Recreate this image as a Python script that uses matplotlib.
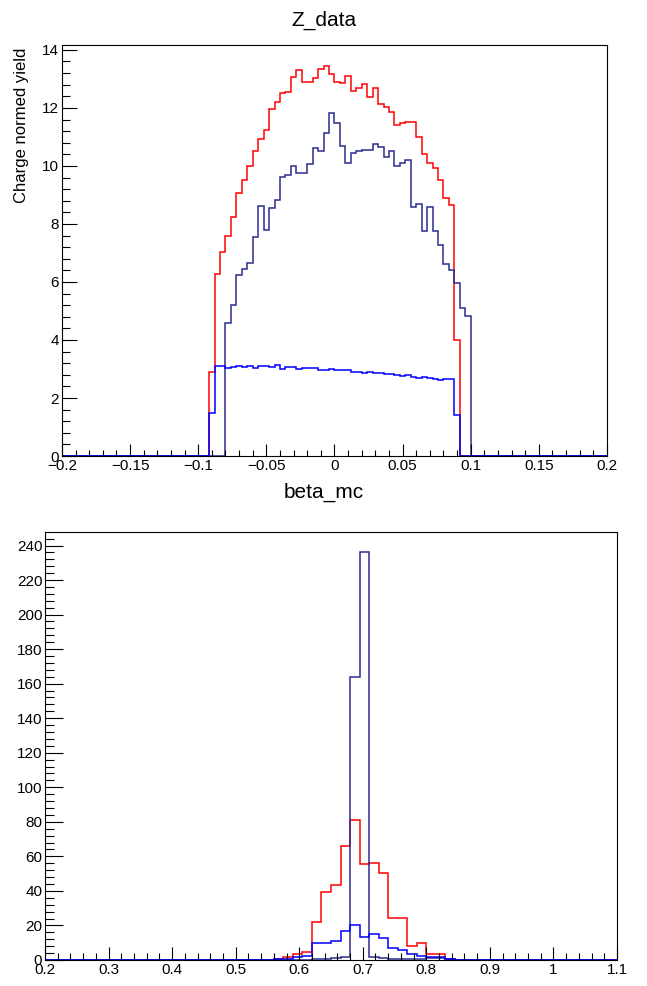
import numpy as np
import matplotlib
matplotlib.use("Agg")
import matplotlib.pyplot as plt
from matplotlib.ticker import MultipleLocator, FuncFormatter

plt.rcParams['font.family'] = ['Liberation Sans', 'DejaVu Sans']

# Z_data: 100 bins between -0.2 and 0.2
z_lo, z_hi, z_nbins = -0.2, 0.2, 100
z_red_start = -0.092
z_red = [2.9, 6.28, 7.05, 7.6, 8.25, 9.08, 9.52, 10.0, 10.5, 10.94, 11.24, 11.95,
         12.2, 12.53, 12.56, 13.06, 13.29, 12.9, 12.9, 13.02, 13.33, 13.45, 13.16,
         12.9, 12.87, 13.1, 12.6, 12.68, 12.83, 12.39, 12.7, 12.14, 12.02, 11.87,
         11.41, 11.47, 11.53, 11.5, 10.99, 10.41, 10.09, 9.92, 9.52, 8.89, 8.66, 4.0]
z_navy_start = -0.080
z_navy = [4.6, 5.2, 6.24, 6.45, 6.64, 7.56, 8.63, 7.79, 8.54, 8.83, 9.63, 9.7,
          10.0, 9.75, 9.75, 10.06, 10.63, 10.53, 11.15, 11.82, 11.49, 10.67, 10.1,
          10.44, 10.52, 10.55, 10.55, 10.76, 10.64, 10.32, 10.52, 10.0, 10.09, 10.2,
          8.6, 8.68, 7.74, 8.6, 7.74, 7.28, 6.62, 6.41, 5.95, 5.11, 4.84]
z_blue_start = -0.092
z_blue = [1.5, 3.12, 3.12, 3.04, 3.08, 3.12, 3.06, 3.12, 3.04, 3.1, 3.12, 3.06,
          3.14, 3.0, 3.08, 3.08, 3.0, 3.03, 3.03, 3.03, 2.95, 2.95, 3.0, 2.95, 2.95,
          2.95, 2.9, 2.9, 2.86, 2.9, 2.86, 2.86, 2.82, 2.82, 2.8, 2.76, 2.8, 2.72,
          2.7, 2.74, 2.68, 2.66, 2.62, 2.67, 2.67, 1.4]

# beta_mc: 60 bins between 0.2 and 1.1
b_lo, b_hi, b_nbins = 0.2, 1.1, 60
b_start = 0.56
b_red = [0.5, 1.5, 3.3, 4.8, 22.1, 39.5, 43.7, 66, 81, 55.3, 56, 50.5, 24.5,
         24.5, 8.1, 9.6, 3.3, 3.3, 0.5]
b_blue = [0.3, 0.5, 1.9, 2.5, 9.6, 10, 11.2, 16.8, 20.2, 13.5, 14.8, 12.9, 6.7,
          5.8, 3.3, 2.3, 1.9, 1.9, 0.4]
b_navy = [0, 0, 0, 0, 0.3, 0.5, 1, 2, 164, 236, 2, 1, 0.5, 0.5, 0.3, 0.5, 1, 1, 0.3]

RED = '#ff0000'
BLUE = '#0000ff'
NAVY = '#2b2b90'


def fill(values, start, lo, hi, nbins):
    edges = np.linspace(lo, hi, nbins + 1)
    counts = np.zeros(nbins)
    i0 = int(round((start - lo) / (hi - lo) * nbins))
    counts[i0:i0 + len(values)] = values
    return counts, edges


def fmt(v, pos):
    s = '%g' % round(v, 6)
    return s.replace('-', '\u2212')


def style(ax, xmaj, xmin, ymaj, ymin, xlen, ylen):
    ax.xaxis.set_major_locator(MultipleLocator(xmaj))
    ax.xaxis.set_minor_locator(MultipleLocator(xmin))
    ax.yaxis.set_major_locator(MultipleLocator(ymaj))
    ax.yaxis.set_minor_locator(MultipleLocator(ymin))
    ax.xaxis.set_major_formatter(FuncFormatter(fmt))
    ax.yaxis.set_major_formatter(FuncFormatter(fmt))
    ax.tick_params(which='both', direction='in', top=False, right=False,
                   width=0.8, labelsize=11, pad=2)
    ax.tick_params(axis='x', which='major', length=xlen)
    ax.tick_params(axis='x', which='minor', length=xlen / 2)
    ax.tick_params(axis='y', which='major', length=ylen)
    ax.tick_params(axis='y', which='minor', length=ylen / 2)
    for sp in ax.spines.values():
        sp.set_linewidth(0.8)


fig = plt.figure(figsize=(6.47, 9.86), dpi=100)

# top pad
ax1 = fig.add_axes([0.0958, 0.5375, 0.8423, 0.4169])
for vals, start, col in [(z_red, z_red_start, RED), (z_navy, z_navy_start, NAVY),
                         (z_blue, z_blue_start, BLUE)]:
    c, e = fill(vals, start, z_lo, z_hi, z_nbins)
    ax1.stairs(c, e, color=col, lw=1.1)
ax1.set_xlim(z_lo, z_hi)
ax1.set_ylim(0, 14.17)
style(ax1, 0.05, 0.01, 2, 0.4, 8.6, 11)
fig.text(0.5, 1 - 20 / 986, 'Z_data', ha='center', va='center', fontsize=15)
fig.text(0.034, 1 - 125 / 986, 'Charge normed yield', rotation=90,
         ha='center', va='center', fontsize=12)

# bottom pad
ax2 = fig.add_axes([0.0696, 0.0264, 0.884, 0.434])
for vals, col in [(b_red, RED), (b_navy, NAVY), (b_blue, BLUE)]:
    c, e = fill(vals, b_start, b_lo, b_hi, b_nbins)
    ax2.stairs(c, e, color=col, lw=1.1)
ax2.set_xlim(b_lo, b_hi)
ax2.set_ylim(0, 247.8)
style(ax2, 0.1, 0.02, 20, 4, 9.4, 13)
fig.text(0.5, 1 - 492 / 986, 'beta_mc', ha='center', va='center', fontsize=15)

fig.savefig('out.png', dpi=100)
